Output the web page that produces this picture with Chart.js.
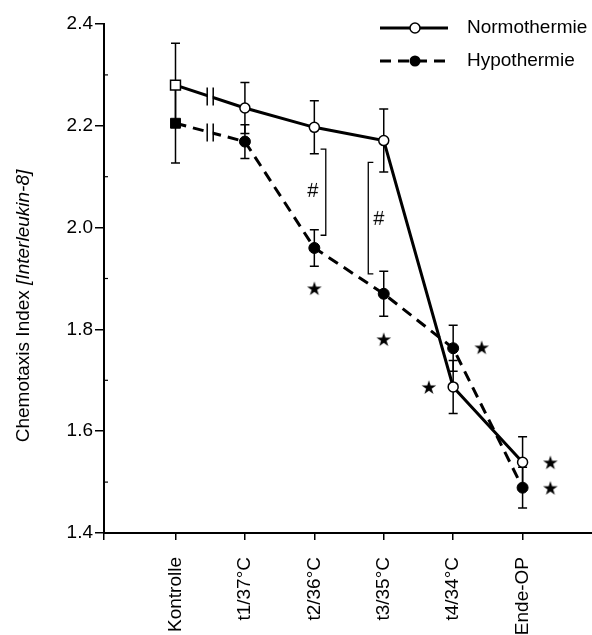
<!DOCTYPE html>
<html>
<head>
<meta charset="utf-8">
<script src="https://cdn.jsdelivr.net/npm/chart.js@4.4.1/dist/chart.umd.min.js"></script>
<style>
  html, body { margin: 0; padding: 0; background: #fff; }
  #wrap { width: 592px; height: 635px; position: relative; }
</style>
</head>
<body>
<div id="wrap"><canvas id="chart"></canvas></div>
<script>
const categories = ['Kontrolle', 't1/37°C', 't2/36°C', 't3/35°C', 't4/34°C', 'Ende-OP'];
const xMin = -1.03;
const xMax = 6;
const yTicks = [1.4, 1.6, 1.8, 2.0, 2.2, 2.4];
const yMinorTicks = [1.5, 1.7, 1.9, 2.1, 2.3];

const normoValues = [2.28, 2.235, 2.197, 2.171, 1.687, 1.539];
const normoErrors = [0.082, 0.05, 0.052, 0.062, 0.052, 0.05];
const hypoValues = [2.205, 2.169, 1.960, 1.870, 1.763, 1.489];
const hypoErrors = [0.078, 0.033, 0.036, 0.044, 0.045, 0.04];

// significance marks (* vs Kontrolle, # between groups)
const starX = [2, 3, 3.65, 4.41, 5.4, 5.4];
const starY = [1.881, 1.781, 1.687, 1.765, 1.539, 1.489];
const hashX = [1.98, 2.93];
const hashY = [2.074, 2.019];
const bracket1X = [2.09, 2.165, 2.165, 2.09];
const bracket1Y = [2.154, 2.154, 1.985, 1.985];
const bracket2X = [2.85, 2.777, 2.777, 2.85];
const bracket2Y = [2.128, 2.128, 1.909, 1.909];

const FONT = '"Liberation Sans", Arial, Helvetica, sans-serif';

function makeGlyph(ch, font, size) {
  const c = document.createElement('canvas');
  c.width = size; c.height = size;
  const g = c.getContext('2d');
  g.font = font;
  const m = g.measureText(ch);
  const w = m.actualBoundingBoxLeft + m.actualBoundingBoxRight;
  const h = m.actualBoundingBoxAscent + m.actualBoundingBoxDescent;
  g.fillStyle = '#000';
  g.fillText(ch, (size - w) / 2 + m.actualBoundingBoxLeft, (size - h) / 2 + m.actualBoundingBoxAscent);
  return c;
}
const starImg = makeGlyph('★', '19px "DejaVu Sans", sans-serif', 24);
const hashImg = makeGlyph('#', 'italic 20px ' + FONT, 20);

const toPts = (xs, ys) => xs.map((x, i) => ({ x: x, y: ys[i] }));

const errorBars = {
  id: 'errorBars',
  beforeDatasetsDraw(chart) {
    const ctx = chart.ctx, ys = chart.scales.y;
    [[0, normoErrors], [1, hypoErrors]].forEach(([di, errs]) => {
      const meta = chart.getDatasetMeta(di);
      meta.data.forEach((pt, i) => {
        const v = chart.data.datasets[di].data[i].y;
        const top = ys.getPixelForValue(v + errs[i]);
        const bot = ys.getPixelForValue(v - errs[i]);
        ctx.save();
        ctx.strokeStyle = '#000';
        ctx.lineWidth = 1.5;
        ctx.beginPath();
        ctx.moveTo(pt.x, top); ctx.lineTo(pt.x, bot);
        ctx.moveTo(pt.x - 4.5, top); ctx.lineTo(pt.x + 4.5, top);
        ctx.moveTo(pt.x - 4.5, bot); ctx.lineTo(pt.x + 4.5, bot);
        ctx.stroke();
        ctx.restore();
      });
    });
  }
};

const extras = {
  id: 'extras',
  afterDatasetsDraw(chart) {
    const ctx = chart.ctx;
    // axis break marks between Kontrolle and t1
    [0, 1].forEach(di => {
      const d = chart.getDatasetMeta(di).data;
      const mx = (d[0].x + d[1].x) / 2, my = (d[0].y + d[1].y) / 2;
      ctx.save();
      ctx.fillStyle = '#fff';
      ctx.fillRect(mx - 2.5, my - 5, 5, 10);
      ctx.strokeStyle = '#000';
      ctx.lineWidth = 1.5;
      ctx.beginPath();
      ctx.moveTo(mx - 3, my - 9); ctx.lineTo(mx - 3, my + 9);
      ctx.moveTo(mx + 3, my - 9); ctx.lineTo(mx + 3, my + 9);
      ctx.stroke();
      ctx.restore();
    });
  },
  afterDraw(chart) {
    const ctx = chart.ctx, ys = chart.scales.y, area = chart.chartArea;
    ctx.save();
    // minor ticks
    ctx.strokeStyle = '#000';
    ctx.lineWidth = 1.2;
    yMinorTicks.forEach(v => {
      const py = ys.getPixelForValue(v);
      ctx.beginPath();
      ctx.moveTo(area.left, py); ctx.lineTo(area.left + 4, py);
      ctx.stroke();
    });

    // y axis title, partly italic
    const a = 'Chemotaxis Index ', b = '[Interleukin-8]';
    ctx.translate(24, 306);
    ctx.rotate(-Math.PI / 2);
    ctx.fillStyle = '#000';
    ctx.textBaseline = 'middle';
    ctx.textAlign = 'left';
    ctx.font = '19px ' + FONT;
    const wa = ctx.measureText(a).width;
    ctx.font = 'italic 19px ' + FONT;
    const wb = ctx.measureText(b).width;
    const x0 = -(wa + wb) / 2;
    ctx.font = '19px ' + FONT;
    ctx.fillText(a, x0, 0);
    ctx.font = 'italic 19px ' + FONT;
    ctx.fillText(b, x0 + wa, 0);
    ctx.restore();

    // legend
    ctx.save();
    ctx.strokeStyle = '#000';
    ctx.fillStyle = '#000';
    ctx.lineWidth = 3;
    ctx.beginPath(); ctx.moveTo(380, 28); ctx.lineTo(448, 28); ctx.stroke();
    ctx.setLineDash([11, 7]);
    ctx.beginPath(); ctx.moveTo(380, 61); ctx.lineTo(448, 61); ctx.stroke();
    ctx.setLineDash([]);
    ctx.lineWidth = 1.5;
    ctx.fillStyle = '#fff';
    ctx.beginPath(); ctx.arc(415, 28, 5, 0, Math.PI * 2); ctx.fill(); ctx.stroke();
    ctx.fillStyle = '#000';
    ctx.beginPath(); ctx.arc(415, 61, 5.5, 0, Math.PI * 2); ctx.fill();
    ctx.font = '19px ' + FONT;
    ctx.textBaseline = 'middle';
    ctx.fillText('Normothermie', 467, 28);
    ctx.fillText('Hypothermie', 467, 61);
    ctx.restore();
  }
};

new Chart(document.getElementById('chart'), {
  type: 'scatter',
  data: {
    datasets: [
      {
        label: 'Normothermie',
        data: toPts(categories.map((c, i) => i), normoValues),
        showLine: true,
        borderColor: '#000',
        borderWidth: 3,
        pointStyle: ['rect', 'circle', 'circle', 'circle', 'circle', 'circle'],
        pointRadius: [7, 5, 5, 5, 5, 5],
        pointBackgroundColor: '#fff',
        pointBorderColor: '#000',
        pointBorderWidth: 1.5,
        tension: 0
      },
      {
        label: 'Hypothermie',
        data: toPts(categories.map((c, i) => i), hypoValues),
        showLine: true,
        borderColor: '#000',
        borderWidth: 3,
        borderDash: [11, 7],
        pointStyle: ['rect', 'circle', 'circle', 'circle', 'circle', 'circle'],
        pointRadius: [7, 5.5, 5.5, 5.5, 5.5, 5.5],
        pointBackgroundColor: '#000',
        pointBorderColor: '#000',
        pointBorderWidth: 1,
        tension: 0
      },
      {
        label: 'bracket1',
        data: toPts(bracket1X, bracket1Y),
        showLine: true, borderColor: '#000', borderWidth: 1.3, pointRadius: 0
      },
      {
        label: 'bracket2',
        data: toPts(bracket2X, bracket2Y),
        showLine: true, borderColor: '#000', borderWidth: 1.3, pointRadius: 0
      },
      {
        label: 'stars',
        data: toPts(starX, starY),
        pointStyle: starImg
      },
      {
        label: 'hash',
        data: toPts(hashX, hashY),
        pointStyle: hashImg
      }
    ]
  },
  options: {
    responsive: true,
    maintainAspectRatio: false,
    animation: false,
    layout: { autoPadding: false, padding: { top: 24, right: 0, bottom: 0, left: 0 } },
    plugins: { legend: { display: false }, tooltip: { enabled: false } },
    scales: {
      x: {
        type: 'linear',
        min: xMin,
        max: xMax,
        afterBuildTicks: s => {
          s.ticks = [{ value: xMin }].concat(categories.map((c, i) => ({ value: i })));
        },
        afterFit: s => { s.height = 102; s.paddingLeft = 0; s.paddingRight = 0; },
        border: { color: '#000', width: 2 },
        grid: { drawOnChartArea: false, tickLength: 7, color: '#000', lineWidth: 1.5 },
        ticks: {
          color: '#000',
          font: { family: FONT, size: 19 },
          maxRotation: 90,
          minRotation: 90,
          autoSkip: false,
          padding: 17,
          callback: v => categories[v] ?? ''
        }
      },
      y: {
        min: 1.4,
        max: 2.4,
        afterBuildTicks: s => { s.ticks = yTicks.map(v => ({ value: v })); },
        afterFit: s => { s.width = 104; },
        border: { color: '#000', width: 2 },
        grid: { drawOnChartArea: false, tickLength: 9, color: '#000', lineWidth: 1.5 },
        ticks: {
          color: '#000',
          font: { family: FONT, size: 19 },
          padding: 2,
          callback: v => v.toFixed(1)
        }
      }
    }
  },
  plugins: [errorBars, extras]
});
</script>
</body>
</html>
